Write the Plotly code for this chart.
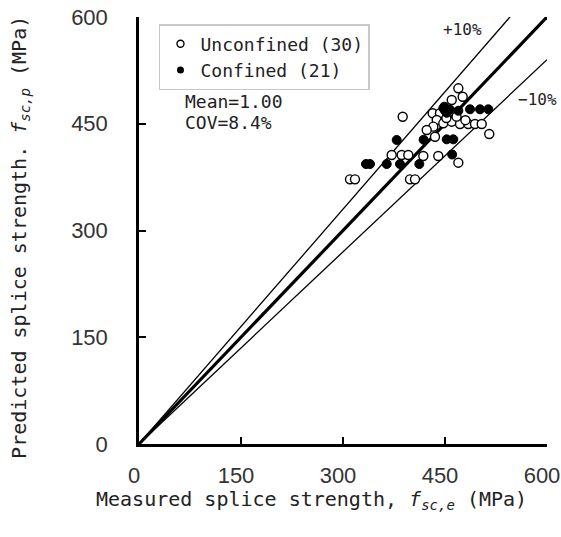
import plotly.graph_objects as go

# ---- data (MPa) ----
unconf_measured = [469.6, 476.0, 459.9, 387.8, 431.9, 442.6, 437.8, 432.8, 423.1, 435.3,
                   447.5, 459.9, 472.1, 484.3, 494.1, 504.0, 515.1, 371.6, 386.3, 396.0,
                   418.1, 440.1, 469.6, 310.3, 317.6, 398.5, 405.9, 467.0, 452.0, 480.0]
unconf_predicted = [499.8, 488.0, 483.4, 459.9, 464.7, 464.7, 455.3, 445.9, 441.2, 431.8,
                    450.6, 452.9, 449.6, 449.6, 449.6, 449.6, 435.6, 406.1, 406.1, 406.1,
                    404.7, 404.7, 395.3, 371.9, 371.9, 371.9, 371.9, 460.0, 458.0, 455.0]

conf_measured = [333.8, 339.7, 364.3, 383.8, 412.2, 379.0, 418.5, 452.5, 462.2, 460.5,
                 450.0, 447.5, 455.0, 452.5, 469.6, 486.8, 501.5, 513.7, 449.0, 457.0, 452.0]
conf_predicted = [393.4, 393.4, 393.4, 393.4, 393.4, 427.2, 427.6, 428.1, 428.1, 406.8,
                  468.5, 471.7, 469.3, 465.5, 468.3, 470.3, 470.3, 470.3, 474.0, 470.0, 466.0]

line_x = [0, 600]
ratio_equal = 1.0
ratio_upper = 1.1
ratio_lower = 0.9

tick_vals = [0, 150, 300, 450, 600]
tick_text = ["0", "150", "300", "450", "600"]

legend_unconf = "Unconfined (30)"
legend_conf = "Confined (21)"

mono = "DejaVu Sans Mono"

fig = go.Figure()

# reference lines
for r, w in [(ratio_upper, 1.3), (ratio_lower, 1.3), (ratio_equal, 3.2)]:
    fig.add_trace(go.Scatter(x=line_x, y=[v * r for v in line_x], mode="lines",
                             line=dict(color="black", width=w), showlegend=False,
                             hoverinfo="skip"))

fig.add_trace(go.Scatter(x=unconf_measured, y=unconf_predicted, mode="markers",
                         marker=dict(symbol="circle", size=9, color="white",
                                     line=dict(color="black", width=1.4)),
                         showlegend=False))
fig.add_trace(go.Scatter(x=conf_measured, y=conf_predicted, mode="markers",
                         marker=dict(symbol="circle", size=9, color="black",
                                     line=dict(color="black", width=1)),
                         showlegend=False))

# legend entries (smaller symbols)
fig.add_trace(go.Scatter(x=[None], y=[None], mode="markers", name=legend_unconf,
                         marker=dict(symbol="circle", size=7, color="white",
                                     line=dict(color="black", width=1.4))))
fig.add_trace(go.Scatter(x=[None], y=[None], mode="markers", name=legend_conf,
                         marker=dict(symbol="circle", size=7, color="black")))

axis_common = dict(range=[0, 600], tickvals=tick_vals, ticktext=tick_text,
                   showline=True, linecolor="black", linewidth=2.5,
                   ticks="inside", ticklen=7, tickwidth=2, tickcolor="black",
                   showgrid=False, zeroline=False, automargin=False,
                   ticklabeloverflow="allow",
                   tickfont=dict(family="Liberation Sans", size=22, color="#333"))

fig.update_xaxes(**axis_common, ticklabelstandoff=10, ticklabelshift=-5)
fig.update_yaxes(**axis_common, ticklabelstandoff=24)

ann = [
    dict(text="+10%", x=476, y=582, xref="x", yref="y", showarrow=False,
         font=dict(family=mono, size=16, color="#222")),
    dict(text="−10%", x=1.0294, y=0.806, xref="paper", yref="paper", showarrow=False,
         xanchor="right", yanchor="middle", font=dict(family=mono, size=16, color="#222")),
    dict(text="Mean=1.00", x=0.107, y=0.802, xref="paper", yref="paper",
         xanchor="left", yanchor="middle", showarrow=False,
         font=dict(family=mono, size=18, color="#222")),
    dict(text="COV=8.4%", x=0.107, y=0.752, xref="paper", yref="paper",
         xanchor="left", yanchor="middle", showarrow=False,
         font=dict(family=mono, size=18, color="#222")),
    dict(text="Measured splice strength, <i>f</i><sub><i>sc,e</i></sub> (MPa)",
         x=0.4216, y=-0.13, xref="paper", yref="paper", showarrow=False,
         xanchor="center", yanchor="middle",
         font=dict(family=mono, size=20, color="#222")),
    dict(text="Predicted splice strength. <i>f</i><sub><i>sc,p</i></sub> (MPa)",
         x=-0.2917, y=0.485, xref="paper", yref="paper", showarrow=False,
         xanchor="center", yanchor="middle", textangle=-90,
         font=dict(family=mono, size=20, color="#222")),
]

fig.update_layout(
    width=561, height=537,
    margin=dict(l=139, r=14, t=17, b=93, autoexpand=False),
    paper_bgcolor="white", plot_bgcolor="white",
    annotations=ann,
    legend=dict(x=0.049, y=0.9836, xanchor="left", yanchor="top",
                bordercolor="#c8c8c8", borderwidth=1.5, bgcolor="white",
                font=dict(family=mono, size=18, color="#222"),
                tracegroupgap=0, itemwidth=30),
)

fig.write_html("out.html", config={"displayModeBar": False},
               post_script="document.body.style.margin='0px';")
